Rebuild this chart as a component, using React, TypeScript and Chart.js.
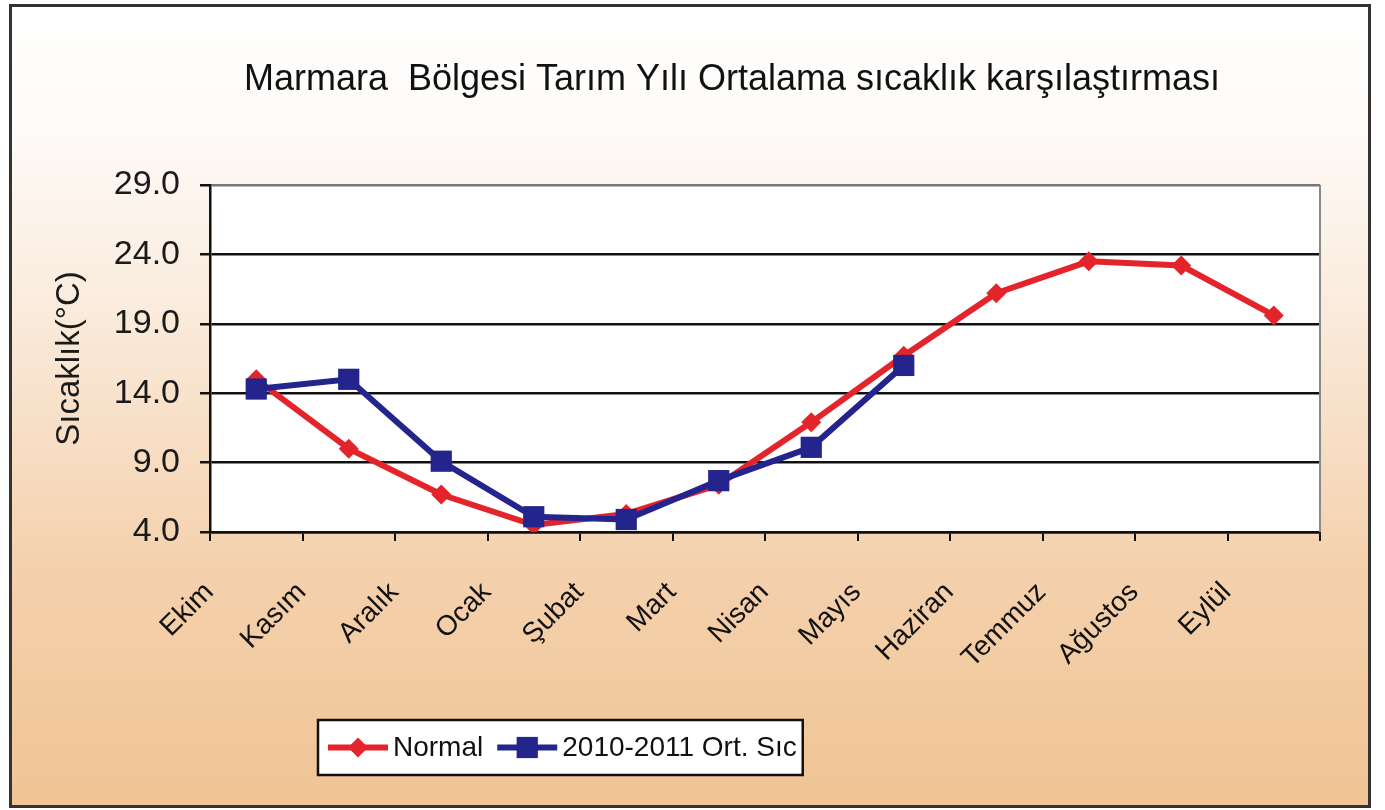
import React, { useEffect, useRef } from 'react';
import { Chart, registerables } from 'chart.js';

Chart.register(...registerables);

const months = ['Ekim', 'Kasım', 'Aralık', 'Ocak', 'Şubat', 'Mart', 'Nisan', 'Mayıs', 'Haziran', 'Temmuz', 'Ağustos', 'Eylül'];
const normalTemps = [15.0, 10.0, 6.7, 4.5, 5.3, 7.4, 11.9, 16.7, 21.2, 23.5, 23.2, 19.6];
const season2010 = [14.3, 15.0, 9.1, 5.1, 4.9, 7.7, 10.1, 16.0, null, null, null, null];
const seriesNames = ['Normal', '2010-2011 Ort. Sıc'];
const chartTitle = 'Marmara  Bölgesi Tarım Yılı Ortalama sıcaklık karşılaştırması';
const yAxisTitle = 'Sıcaklık(°C)';
const yMin = 4;
const yMax = 29;
const yStep = 5;

const RED = '#E3242B';
const BLUE = '#23248C';
const FONT = "'Liberation Sans', Arial, sans-serif";

const decorPlugin = {
  id: 'decor',
  beforeDraw(chart: any) {
    const { ctx, width, height, chartArea } = chart;
    ctx.save();
    ctx.fillStyle = '#ffffff';
    ctx.fillRect(0, 0, width, height);
    const g = ctx.createLinearGradient(0, 5, 0, 807);
    g.addColorStop(0, '#ffffff');
    g.addColorStop(0.15, '#fefbf8');
    g.addColorStop(0.38, '#faebdc');
    g.addColorStop(0.7, '#f4d1ad');
    g.addColorStop(1, '#f0c494');
    ctx.fillStyle = g;
    ctx.fillRect(10, 5, 1360, 802);
    ctx.fillStyle = '#ffffff';
    ctx.fillRect(chartArea.left, chartArea.top, chartArea.width, chartArea.height);

    // chart title (centred as in the reference, slightly right of the canvas centre)
    ctx.fillStyle = '#111111';
    ctx.font = `36px ${FONT}`;
    ctx.textAlign = 'center';
    ctx.textBaseline = 'middle';
    ctx.fillText(chartTitle, 732, 80);
    ctx.restore();
  },
  beforeDatasetsDraw(chart: any) {
    const { ctx, chartArea } = chart;
    ctx.save();
    ctx.strokeStyle = '#8a8a8a';
    ctx.lineWidth = 2;
    ctx.beginPath();
    ctx.moveTo(chartArea.right, chartArea.top);
    ctx.lineTo(chartArea.right, chartArea.bottom);
    ctx.stroke();
    ctx.restore();
  },
  afterDraw(chart: any) {
    const { ctx } = chart;
    ctx.save();
    // outer frame
    ctx.strokeStyle = '#333333';
    ctx.lineWidth = 3;
    ctx.strokeRect(10.5, 5.5, 1359, 801);

    // legend
    ctx.font = `28px ${FONT}`;
    const boxLeft = 318;
    const boxTop = 720;
    const boxH = 55;
    const cy = boxTop + boxH / 2;
    let x = boxLeft + 10;
    const items = chart.data.datasets.map((ds: any) => ({
      label: ds.label,
      color: ds.borderColor,
      style: ds.pointStyle,
      radius: ds.pointRadius,
      w: ctx.measureText(ds.label).width,
    }));
    let total = 10;
    items.forEach((it: any, i: number) => {
      total += 60 + 5 + it.w + (i < items.length - 1 ? 14 : 6);
    });
    ctx.fillStyle = '#ffffff';
    ctx.fillRect(boxLeft, boxTop, total, boxH);
    ctx.strokeStyle = '#111111';
    ctx.lineWidth = 2.5;
    ctx.strokeRect(boxLeft, boxTop, total, boxH);
    items.forEach((it: any) => {
      ctx.strokeStyle = it.color;
      ctx.lineWidth = 6;
      ctx.beginPath();
      ctx.moveTo(x, cy);
      ctx.lineTo(x + 60, cy);
      ctx.stroke();
      ctx.fillStyle = it.color;
      const mx = x + 30;
      if (it.style === 'rectRot') {
        const r = it.radius;
        ctx.beginPath();
        ctx.moveTo(mx, cy - r);
        ctx.lineTo(mx + r, cy);
        ctx.lineTo(mx, cy + r);
        ctx.lineTo(mx - r, cy);
        ctx.closePath();
        ctx.fill();
      } else {
        const s = it.radius * Math.SQRT1_2;
        ctx.fillRect(mx - s, cy - s, 2 * s, 2 * s);
      }
      ctx.fillStyle = '#111111';
      ctx.textBaseline = 'middle';
      ctx.textAlign = 'left';
      ctx.fillText(it.label, x + 65, cy + 1);
      x += 65 + it.w + 14;
    });
    ctx.restore();
  },
};

export default function App() {
  const canvasRef = useRef<HTMLCanvasElement | null>(null);

  useEffect(() => {
    if (!canvasRef.current) return;
    const chart = new Chart(canvasRef.current, {
      type: 'line',
      data: {
        labels: months,
        datasets: [
          {
            label: seriesNames[0],
            data: normalTemps,
            borderColor: RED,
            backgroundColor: RED,
            borderWidth: 6,
            pointStyle: 'rectRot',
            pointRadius: 10,
            pointBorderWidth: 0,
            tension: 0,
            order: 1,
          },
          {
            label: seriesNames[1],
            data: season2010,
            borderColor: BLUE,
            backgroundColor: BLUE,
            borderWidth: 6,
            pointStyle: 'rect',
            pointRadius: 15,
            pointBorderWidth: 0,
            tension: 0,
            order: 0,
          },
        ],
      },
      options: {
        responsive: false,
        animation: false,
        devicePixelRatio: 1,
        layout: { padding: { left: 10, right: 65, top: 185, bottom: 0 } },
        plugins: {
          legend: { display: false },
          tooltip: { enabled: false },
          title: { display: false },
        },
        scales: {
          x: {
            type: 'category',
            offset: true,
            afterFit: (scale: any) => {
              scale.height = 278;
            },
            grid: {
              offset: true,
              drawOnChartArea: false,
              drawTicks: true,
              tickLength: 9,
              color: '#111111',
              lineWidth: 2,
            },
            border: { color: '#111111', width: 2.5 },
            ticks: {
              minRotation: 45,
              maxRotation: 45,
              autoSkip: false,
              padding: 35,
              labelOffset: -47,
              color: '#111111',
              font: { family: FONT, size: 28 },
            },
          },
          y: {
            min: yMin,
            max: yMax,
            afterFit: (scale: any) => {
              scale.width = 200;
            },
            ticks: {
              stepSize: yStep,
              padding: 20,
              color: '#1a1a1a',
              font: { family: FONT, size: 34 },
              callback: (v: any) => Number(v).toFixed(1),
            },
            grid: {
              color: (c: any) => (c.tick && c.tick.value === yMax ? '#777777' : '#111111'),
              lineWidth: 2.5,
              drawTicks: true,
              tickLength: 10,
              tickColor: '#111111',
            },
            border: { color: '#111111', width: 2.5 },
            title: {
              display: true,
              text: yAxisTitle,
              color: '#1a1a1a',
              font: { family: FONT, size: 33 },
              padding: { top: 40, bottom: 0 },
            },
          },
        },
      },
      plugins: [decorPlugin],
    });
    return () => chart.destroy();
  }, []);

  return (
    <div style={{ position: 'fixed', left: 0, top: 0, width: 1385, height: 810 }}>
      <canvas ref={canvasRef} width={1385} height={810} style={{ display: 'block' }} />
    </div>
  );
}
